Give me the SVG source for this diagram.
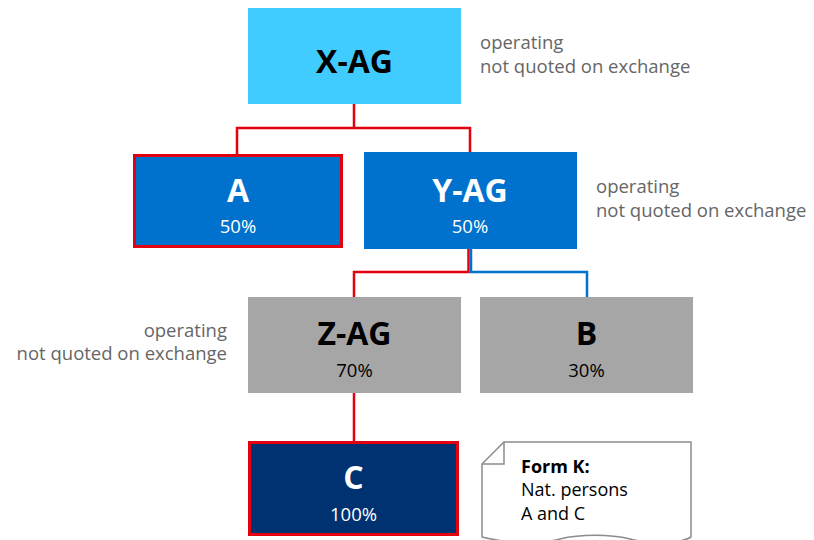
<svg xmlns="http://www.w3.org/2000/svg" width="814" height="540" viewBox="0 0 814 540">
<style>
.t{font-family:"Open Sans","Noto Sans","Liberation Sans",sans-serif;}
.title{font-size:32px;font-weight:bold;text-anchor:middle;}
.pct{font-size:18.5px;text-anchor:middle;}
.note{font-size:18.5px;fill:#666666;}
.doc{font-size:18px;fill:#000;}
.w{fill:#ffffff;}
.k{fill:#000000;}
.red{fill:none;stroke:#E3000F;stroke-width:2.5;}
.blue{fill:none;stroke:#0072CE;stroke-width:2.5;}
</style>
<g id="connectors">
<path class="red" d="M354,104 V128 H237 V154 M354,128 H470 V152"/>
<path class="red" d="M468.5,249 V272 H354 V297"/>
<path class="blue" d="M471,249 V272 H587 V297"/>
<path class="red" d="M354,393 V441"/>
</g>
<g id="xag">
<rect x="248" y="8" width="213" height="96" fill="#41CCFF"/>
<text class="t title k" x="354.5" y="73">X-AG</text>
</g>
<g id="note-xag">
<text class="t note" x="480" y="49">operating</text>
<text class="t note" x="480" y="73">not quoted on exchange</text>
</g>
<g id="a">
<rect x="134.5" y="155.5" width="207" height="91" fill="#0072CE" stroke="#E3000F" stroke-width="3"/>
<text class="t title w" x="238" y="202">A</text>
<text class="t pct w" x="238" y="233">50%</text>
</g>
<g id="yag">
<rect x="364" y="152" width="213" height="97" fill="#0072CE"/>
<text class="t title w" x="470" y="202">Y-AG</text>
<text class="t pct w" x="470" y="233">50%</text>
</g>
<g id="note-yag">
<text class="t note" x="596" y="193">operating</text>
<text class="t note" x="596" y="217">not quoted on exchange</text>
</g>
<g id="zag">
<rect x="248" y="297" width="213" height="96" fill="#A6A6A6"/>
<text class="t title k" x="354.5" y="345">Z-AG</text>
<text class="t pct k" x="354.5" y="377">70%</text>
</g>
<g id="note-zag">
<text class="t note" x="227" y="337" text-anchor="end">operating</text>
<text class="t note" x="227" y="360" text-anchor="end">not quoted on exchange</text>
</g>
<g id="b">
<rect x="480" y="297" width="213" height="96" fill="#A6A6A6"/>
<text class="t title k" x="586.5" y="345">B</text>
<text class="t pct k" x="586.5" y="377">30%</text>
</g>
<g id="c">
<rect x="249.5" y="442.5" width="208" height="92" fill="#003170" stroke="#E3000F" stroke-width="3"/>
<text class="t title w" x="353.5" y="489">C</text>
<text class="t pct w" x="353.5" y="521">100%</text>
</g>
<g id="formk">
<path d="M504,442 H691 V537 C680,544 650,544 630,539 C610,534 580,534 560,539 C540,544 510,544 482,537 V464 Z" fill="#ffffff" stroke="#8c8c8c" stroke-width="1.5"/>
<path d="M482,464 H504 V442" fill="none" stroke="#8c8c8c" stroke-width="1.5"/>
<text class="t doc" x="521" y="473" font-weight="bold">Form K:</text>
<text class="t doc" x="521" y="496">Nat. persons</text>
<text class="t doc" x="521" y="520">A and C</text>
</g>
</svg>
